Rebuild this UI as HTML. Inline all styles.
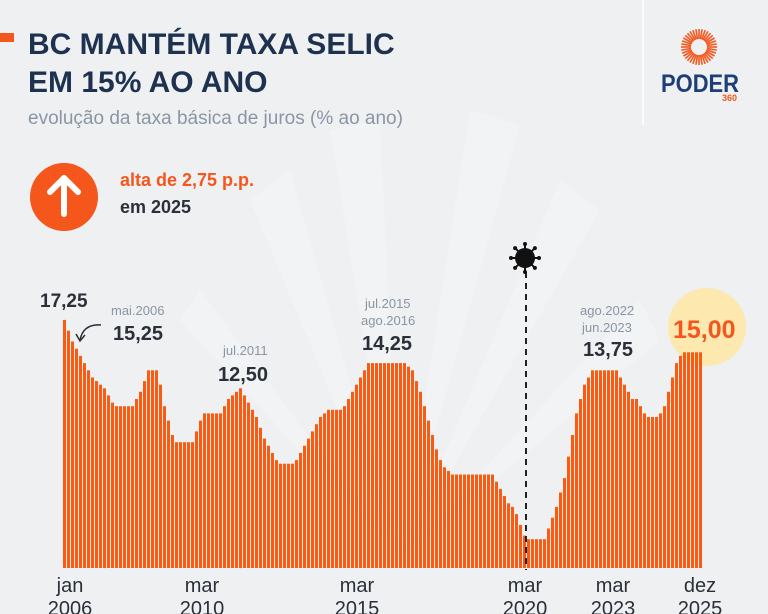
<!DOCTYPE html>
<html><head><meta charset="utf-8"><style>
html,body{margin:0;padding:0;}
body{width:768px;height:614px;overflow:hidden;background:#eef0f2;font-family:"Liberation Sans",sans-serif;}
</style></head><body>
<svg id="s" width="768" height="614" viewBox="0 0 768 614" xmlns="http://www.w3.org/2000/svg" style="display:block">
<rect width="768" height="614" fill="#eef0f2"/>
<g fill="#f6f7f8" opacity="0.45">
<polygon points="400,560 330,130 380,120"/>
<polygon points="400,560 470,110 520,125"/>
<polygon points="400,560 560,180 600,210"/>
<polygon points="400,560 250,200 290,170"/>
<polygon points="400,560 640,300 660,340"/>
<polygon points="400,560 180,320 200,290"/>
</g>
<line x1="643" y1="0" x2="643" y2="125" stroke="#ffffff" stroke-width="1.5"/>
<rect x="0" y="33" width="14" height="9" fill="#f4561c"/>
<text x="28" y="54" font-size="30" font-weight="bold" fill="#1e3250">BC MANTÉM TAXA SELIC</text>
<text x="28" y="92" font-size="30" font-weight="bold" fill="#1e3250">EM 15% AO ANO</text>
<text x="28" y="124" font-size="19" fill="#8a96a3">evolução da taxa básica de juros (% ao ano)</text>
<g id="sun" transform="translate(699,47)"></g>
<text x="661" y="92" font-size="25" font-weight="bold" fill="#1e3e78" textLength="78" lengthAdjust="spacingAndGlyphs">PODER</text>
<text x="722" y="101" font-size="9" font-weight="bold" fill="#f4561c">360</text>
<circle cx="64" cy="197" r="34" fill="#f4561c"/>
<path d="M64,178 L64,214 M50,192 L64,178 L78,192" stroke="#fff" stroke-width="6" fill="none" stroke-linecap="round" stroke-linejoin="round"/>
<text x="120" y="186" font-size="18" font-weight="bold" fill="#f4561c">alta de 2,75 p.p.</text>
<text x="120" y="213" font-size="18" font-weight="bold" fill="#2a2f38">em 2025</text>
<circle cx="707" cy="327" r="39" fill="#fde9b0"/>
<g id="bars" fill="#fb5a10"></g>
<line x1="526" y1="272" x2="526" y2="570" stroke="#222" stroke-width="2" stroke-dasharray="6,5"/>
<g id="virus" transform="translate(525,258)"></g>
<text x="40" y="307" font-size="19" font-weight="bold" fill="#2a2f38">17,25</text>
<text x="111" y="315" font-size="13" fill="#8a96a3">mai.2006</text>
<text x="113" y="340" font-size="20" font-weight="bold" fill="#2a2f38">15,25</text>
<path d="M101,325 C88,324 82,330 80,340 M76,334 L80,341 L85,335" stroke="#2a2f38" stroke-width="1.5" fill="none"/>
<text x="223" y="355" font-size="13" fill="#8a96a3">jul.2011</text>
<text x="218" y="381" font-size="20" font-weight="bold" fill="#2a2f38">12,50</text>
<text x="365" y="308" font-size="13" fill="#8a96a3">jul.2015</text>
<text x="361" y="325" font-size="13" fill="#8a96a3">ago.2016</text>
<text x="362" y="350" font-size="20" font-weight="bold" fill="#2a2f38">14,25</text>
<text x="580" y="315" font-size="13" fill="#8a96a3">ago.2022</text>
<text x="582" y="332" font-size="13" fill="#8a96a3">jun.2023</text>
<text x="583" y="356" font-size="20" font-weight="bold" fill="#2a2f38">13,75</text>
<text x="673" y="338" font-size="25" font-weight="bold" fill="#f4561c">15,00</text>
<g font-size="20" fill="#2a2f38" text-anchor="middle">
<text x="70" y="592">jan</text><text x="70" y="615">2006</text>
<text x="202" y="592">mar</text><text x="202" y="615">2010</text>
<text x="357" y="592">mar</text><text x="357" y="615">2015</text>
<text x="525" y="592">mar</text><text x="525" y="615">2020</text>
<text x="613" y="592">mar</text><text x="613" y="615">2023</text>
<text x="700" y="592">dez</text><text x="700" y="615">2025</text>
</g>
</svg>
<script>
var d=[17.25,16.5,15.75,15.25,14.75,14.25,13.75,13.25,
13,12.75,12.5,12,11.5,11.25,11.25,11.25,
11.25,11.25,11.75,12.25,13,13.75,13.75,13.75,
12.75,11.25,10.25,9.25,8.75,8.75,8.75,8.75,
8.75,9.5,10.25,10.75,10.75,10.75,10.75,10.75,
11.25,11.75,12,12.25,12.5,12,11.5,11,
10.5,9.75,9,8.5,8,7.5,7.25,7.25,
7.25,7.25,7.5,8,8.5,9,9.5,10,
10.5,10.75,11,11,11,11,11.25,11.75,
12.25,12.75,13.25,13.75,14.25,14.25,14.25,14.25,
14.25,14.25,14.25,14.25,14.25,14.25,14,13.75,
13,12.25,11.25,10.25,9.25,8.25,7.5,7,
6.75,6.5,6.5,6.5,6.5,6.5,6.5,6.5,
6.5,6.5,6.5,6.5,6,5.5,5,4.5,
4.25,3.75,3,2.25,2,2,2,2,
2,2.75,3.5,4.25,5.25,6.25,7.75,9.25,
10.75,11.75,12.75,13.25,13.75,13.75,13.75,13.75,
13.75,13.75,13.75,13.25,12.75,12.25,11.75,11.75,
11.25,10.75,10.5,10.5,10.5,10.75,11.25,12.25,
13.25,14.25,14.75,15,15,15,15,15];
var g=document.getElementById("bars"),h="";
for(var i=0;i<d.length;i++){var y=568-d[i]*14.38;h+='<rect x="'+(63+i*4)+'" y="'+y.toFixed(1)+'" width="3" height="'+(568-y).toFixed(1)+'"/>';}
g.innerHTML=h;
var s="";for(var k=0;k<36;k++){var a=k*10*Math.PI/180;s+='<line x1="'+(8*Math.cos(a)).toFixed(2)+'" y1="'+(8*Math.sin(a)).toFixed(2)+'" x2="'+(18*Math.cos(a)).toFixed(2)+'" y2="'+(18*Math.sin(a)).toFixed(2)+'" stroke="#f4561c" stroke-width="1.6"/>';}
document.getElementById("sun").innerHTML=s;
var v='<circle r="10" fill="#111"/>';for(var k=0;k<8;k++){var a=k*45*Math.PI/180;v+='<line x1="0" y1="0" x2="'+(14*Math.cos(a)).toFixed(2)+'" y2="'+(14*Math.sin(a)).toFixed(2)+'" stroke="#111" stroke-width="2"/><circle cx="'+(14*Math.cos(a)).toFixed(2)+'" cy="'+(14*Math.sin(a)).toFixed(2)+'" r="2" fill="#111"/>';}
document.getElementById("virus").innerHTML=v;
</script>
</body></html>
